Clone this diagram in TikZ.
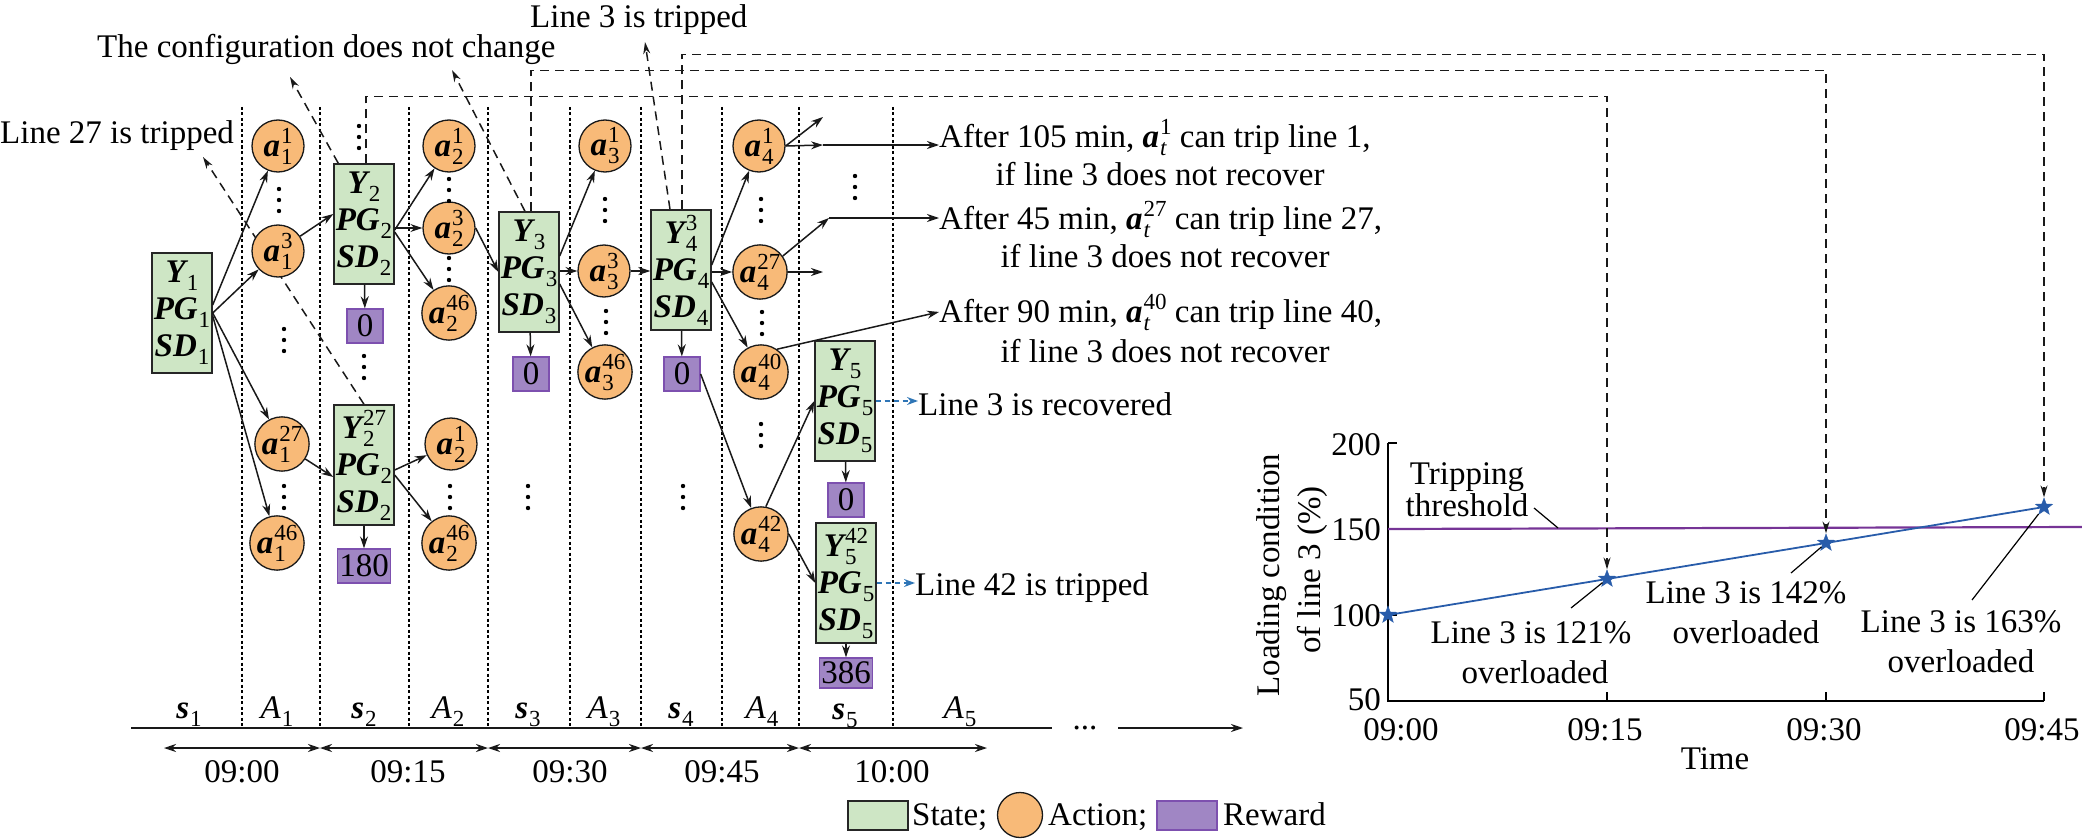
\documentclass[tikz,border=0pt]{standalone}
\usepackage{fontspec}
\setmainfont{Liberation Serif}
\usetikzlibrary{arrows.meta,shapes.geometric,calc}
\pgfdeclarelayer{bg}
\pgfsetlayers{bg,main}
\definecolor{stgreen}{RGB}{206,230,197}
\definecolor{acorange}{RGB}{248,186,120}
\definecolor{rwpurple}{RGB}{160,134,196}
\definecolor{rwborder}{RGB}{125,80,175}
\definecolor{dblue}{RGB}{46,117,182}
\definecolor{pblue}{RGB}{40,92,170}
\definecolor{thr}{RGB}{118,52,150}
\newsavebox\sscA
\newsavebox\sscB
\newlength\sscw
\newcommand\ssc[2]{{\normalfont\fontsize{23}{23}\selectfont
 \sbox\sscA{#1}\sbox\sscB{#2}%
 \setlength\sscw{\wd\sscA}\ifdim\wd\sscB>\sscw\setlength\sscw{\wd\sscB}\fi
 \hspace{1pt}\makebox[\sscw][l]{\rlap{\raisebox{13pt}{\usebox\sscA}}\raisebox{-8pt}{\usebox\sscB}}}}
\newcommand\bi[1]{\textbf{\textit{#1}}}
\newcommand\act[2]{\bi{a}\ssc{#1}{#2}}
\begin{document}
\begin{tikzpicture}[x=1pt,y=-1pt,
 every node/.style={font=\fontsize{33}{37}\selectfont, inner sep=0pt},
 statebox/.style={draw=black!85, line width=1.4pt, fill=stgreen, minimum width=60pt, minimum height=120pt, align=center, font=\fontsize{33}{37}\selectfont\bfseries\itshape},
 actnode/.style={circle, draw=black!90, line width=1.3pt, fill=acorange, minimum size=52pt},
 rwbox/.style={draw=rwborder, line width=1.3pt, fill=rwpurple, minimum width=36pt, minimum height=34pt, inner xsep=2pt},
 arr/.style={line width=1.5pt, black!90, -{Stealth[length=12pt,width=8pt]}},
 dbl/.style={line width=1.5pt, black!90, {Stealth[length=12pt,width=8pt]}-{Stealth[length=12pt,width=8pt]}},
 dasharr/.style={line width=1.5pt, black!90, dash pattern=on 9pt off 6pt, -{Stealth[length=12pt,width=7pt]}},
 bluearr/.style={line width=1.5pt, dblue, dash pattern=on 5pt off 4pt, -{Stealth[length=11pt,width=8pt]}},
 sepline/.style={line width=1.1pt, dash pattern=on 3pt off 2.5pt},
 lbl/.style={anchor=base west},
 ctr/.style={anchor=base},
 leader/.style={line width=1.2pt, black},
 starmark/.style={star, star points=5, star point ratio=2.4, fill=pblue, draw=pblue, minimum size=18pt, inner sep=0pt},
]
\useasboundingbox (0,0) rectangle (2082,840);

% ---------- states ----------
\node[statebox] (S1) at (182,313) {Y\ssc{}{1}\\PG\ssc{}{1}\\SD\ssc{}{1}};
\node[statebox] (S2) at (364,224) {Y\ssc{}{2}\\PG\ssc{}{2}\\SD\ssc{}{2}};
\node[statebox] (S2b) at (364,465) {Y\ssc{27}{2}\\PG\ssc{}{2}\\SD\ssc{}{2}};
\node[statebox] (S3) at (529,272) {Y\ssc{}{3}\\PG\ssc{}{3}\\SD\ssc{}{3}};
\node[statebox] (S4) at (681,270) {Y\ssc{3}{4}\\PG\ssc{}{4}\\SD\ssc{}{4}};
\node[statebox] (S5) at (845,401) {Y\ssc{}{5}\\PG\ssc{}{5}\\SD\ssc{}{5}};
\node[statebox] (S5b) at (846,583) {Y\ssc{42}{5}\\PG\ssc{}{5}\\SD\ssc{}{5}};

% ---------- rewards ----------
\node[rwbox] (R2) at (365,326) {0};
\node[rwbox] (R2b) at (364,566) {180};
\node[rwbox] (R3) at (531,374) {0};
\node[rwbox] (R4) at (682,374) {0};
\node[rwbox] (R5) at (846,500) {0};
\node[rwbox, minimum height=30pt] (R5b) at (846,673) {386};

% ---------- actions ----------
\node[actnode] (a11) at (278,146) {\act{1}{1}};
\node[actnode] (a13) at (278,251) {\act{3}{1}};
\node[actnode] (a127) at (282,444) {\act{27}{1}};
\node[actnode] (a146) at (277,543) {\act{46}{1}};
\node[actnode] (a21) at (449,146) {\act{1}{2}};
\node[actnode] (a23) at (449,228) {\act{3}{2}};
\node[actnode] (a246) at (449,313) {\act{46}{2}};
\node[actnode] (a21b) at (451,444) {\act{1}{2}};
\node[actnode] (a246b) at (449,543) {\act{46}{2}};
\node[actnode] (a31) at (605,146) {\act{1}{3}};
\node[actnode] (a33) at (604,271) {\act{3}{3}};
\node[actnode] (a346) at (605,372) {\act{46}{3}};
\node[actnode] (a41) at (759,146) {\act{1}{4}};
\node[actnode] (a427) at (760,272) {\act{27}{4}};
\node[actnode] (a440) at (761,372) {\act{40}{4}};
\node[actnode] (a442) at (761,534) {\act{42}{4}};

% ---------- vertical dots ----------
\foreach \dx/\dy in {279/200,284/340,284/497,449/190,449/269,450/497,605/210,606/322,761/210,762/323,761/435,359/137,364/367,528/497,683/497,855/187}
  {\foreach \k in {-11,0,11} \fill (\dx,\dy+\k) circle (2.2pt);}

% ---------- top labels ----------
\node[lbl] (t27) at (0,143) {Line 27 is tripped};
\node[lbl] (tcfg) at (97,58) {The configuration does not change};
\node[lbl] (t3) at (530,28) {Line 3 is tripped};
\coordinate (la1) at (203,157);
\coordinate (la2) at (290,77);
\coordinate (la3) at (452,70);
\coordinate (la4) at (645,42);

% ---------- right texts ----------
\node[lbl] (t105a) at (939,147) {After 105 min, \act{1}{\textit{t}} can trip line 1,};
\node[ctr] (t105b) at (1160,185) {if line 3 does not recover};
\node[lbl] (t45a) at (939,229) {After 45 min, \act{27}{\textit{t}} can trip line 27,};
\node[ctr] (t45b) at (1165,267) {if line 3 does not recover};
\node[lbl] (t90a) at (939,322) {After 90 min, \act{40}{\textit{t}} can trip line 40,};
\node[ctr] (t90b) at (1165,362) {if line 3 does not recover};
\node[lbl] (trec) at (918,415) {Line 3 is recovered};
\node[lbl] (t42) at (915,595) {Line 42 is tripped};

\coordinate (c41a) at (823,117);
\coordinate (c41b) at (823,145);
\coordinate (c427a) at (829,218);
\coordinate (c427b) at (823,272);

% ---------- background: separators and label arrows ----------
\begin{pgfonlayer}{bg}
\foreach \xx in {242,320,409,488,570,641,722,799,893} \draw[sepline] (\xx,107) -- (\xx,728);
\draw[dasharr] (S2b.north) -- (la1);
\draw[dasharr] ([xshift=5pt]S2.north west) -- (la2);
\draw[dasharr] ([xshift=-4pt]S3.north) -- (la3);
\draw[dasharr] ([xshift=-11pt]S4.north) -- (la4);
\end{pgfonlayer}

% ---------- arrows ----------
\draw[arr] ([yshift=8pt]S1.east) -- (a11);
\draw[arr] (S1.east) -- (a13);
\draw[arr] (S1.east) -- (a127);
\draw[arr] ([yshift=-3pt]S1.east) -- (a146);
\draw[arr] (a13) -- ([yshift=10pt]S2.west);
\draw[arr] (a127) -- ([yshift=-12pt]S2b.west);
\draw[arr] ([yshift=-6pt]S2.east) -- (a21);
\draw[arr] (S2.east |- a23) -- (a23);
\draw[arr] ([yshift=-8pt]S2.east) -- (a246);
\draw[arr] (S2) -- (R2);
\draw[arr] ([yshift=-5pt]S2b.east) -- (a21b);
\draw[arr] ([yshift=-10pt]S2b.east) -- (a246b);
\draw[arr] (S2b) -- (R2b);
\draw[arr] (a23.east) -- (S3.west);
\draw[arr] ([yshift=16pt]S3.east) -- (a31);
\draw[arr] (S3.east |- a33) -- (a33);
\draw[arr] ([yshift=-12pt]S3.east) -- (a346);
\draw[arr] (S3) -- (R3);
\draw[arr] (a33) -- (S4.west |- a33);
\draw[arr] ([yshift=5pt]S4.east) -- (a41);
\draw[arr] (S4.east |- a427) -- (a427);
\draw[arr] ([yshift=-12pt]S4.east) -- (a440);
\draw[arr] (S4) -- (R4);
\draw[arr] (R4.east) -- (a442);
\draw[arr] (a442.80) -- (S5.west);
\draw[arr] (a442.east) -- (S5b.west);
\draw[arr] (S5) -- (R5);
\draw[arr] (S5b) -- (R5b);
\draw[arr] (a41.east) -- (c41a);
\draw[arr] (a41.east) -- (c41b);
\draw[arr] (c41b) -- (t105a.west |- c41b);
\draw[arr] (a427.35) -- (c427a);
\draw[arr] (c427a) -- (t45a.west |- c427a);
\draw[arr] (a427.east) -- (c427b);
\draw[arr] (a440.55) -- (t90a.west);
\draw[bluearr] (S5.east) -- (trec.west |- S5.east);
\draw[bluearr] (S5b.east) -- (t42.west |- S5b.east);

% ---------- timeline ----------
\coordinate (tl0) at (131,728);
\coordinate (tl1) at (1052,728);
\draw[line width=1.6pt, black!90] (tl0) -- (tl1);
\node[ctr] (tdots) at (1085,729) {...};
\coordinate (tl2) at (1118,728);
\coordinate (tl3) at (1243,728);
\draw[arr] (tl2) -- (tl3);
\node[ctr] (ls1) at (189,718) {\bi{s}\ssc{}{1}};
\node[ctr] (lA1) at (277,718) {\textit{A}\ssc{}{1}};
\node[ctr] (ls2) at (364,718) {\bi{s}\ssc{}{2}};
\node[ctr] (lA2) at (448,718) {\textit{A}\ssc{}{2}};
\node[ctr] (ls3) at (528,718) {\bi{s}\ssc{}{3}};
\node[ctr] (lA3) at (604,718) {\textit{A}\ssc{}{3}};
\node[ctr] (ls4) at (681,718) {\bi{s}\ssc{}{4}};
\node[ctr] (lA4) at (762,718) {\textit{A}\ssc{}{4}};
\node[ctr] (ls5) at (845,719) {\bi{s}\ssc{}{5}};
\node[ctr] (lA5) at (960,718) {\textit{A}\ssc{}{5}};
\coordinate (ta0) at (164,748);
\coordinate (ta1) at (320,748);
\coordinate (ta2) at (488,748);
\coordinate (ta3) at (641,748);
\coordinate (ta4) at (799,748);
\coordinate (ta5) at (987,748);
\draw[dbl] (ta0) -- (ta1);
\draw[dbl] (ta1) -- (ta2);
\draw[dbl] (ta2) -- (ta3);
\draw[dbl] (ta3) -- (ta4);
\draw[dbl] (ta4) -- (ta5);
\node[ctr] (h0) at (242,782) {09:00};
\node[ctr] (h1) at (408,782) {09:15};
\node[ctr] (h2) at (570,782) {09:30};
\node[ctr] (h3) at (722,782) {09:45};
\node[ctr] (h4) at (892,782) {10:00};

% ---------- legend ----------
\node[draw=black!85, line width=1.4pt, fill=stgreen, minimum width=60pt, minimum height=29pt] (lg1) at (878,815.5) {};
\node[lbl] (lg1t) at (912,825) {State;};
\node[actnode, minimum size=45pt] (lg2) at (1020,815) {};
\node[lbl] (lg2t) at (1048,825) {Action;};
\node[rwbox, minimum width=60pt, minimum height=29pt] (lg3) at (1187,815.5) {};
\node[lbl] (lg3t) at (1223,825) {Reward};

% ---------- chart ----------
\coordinate (O) at (1388,701);
\coordinate (ytop) at (1388,443);
\coordinate (xend) at (2044,701);
\draw[line width=1.6pt] (ytop) -- (O) -- (xend);
\foreach \yy in {443,529,615} \draw[line width=1.5pt] (1388,\yy) -- (1397,\yy);
\foreach \xx in {1607,1826,2044} \draw[line width=1.5pt] (\xx,701) -- (\xx,692);
\node[anchor=base east] (y200) at (1381,455) {200};
\node[anchor=base east] (y150) at (1381,540) {150};
\node[anchor=base east] (y100) at (1381,626) {100};
\node[anchor=base east] (y50) at (1381,710) {50};
\node[ctr] (x0) at (1401,740) {09:00};
\node[ctr] (x15) at (1605,740) {09:15};
\node[ctr] (x30) at (1824,740) {09:30};
\node[ctr] (x45) at (2042,740) {09:45};
\node[ctr] (xlab) at (1715,769) {Time};
\node[anchor=base, rotate=90] (ylab1) at (1279,575) {Loading condition};
\node[anchor=base, rotate=90] (ylab2) at (1320,570) {of line 3 (\%)};
\coordinate (thA) at (1388,529);
\coordinate (thB) at (2082,527);
\draw[thr, line width=2.2pt] (thA) -- (thB);
\coordinate (p0) at (1388,615);
\coordinate (p15) at (1607,579);
\coordinate (p30) at (1826,543);
\coordinate (p45) at (2044,507);
\draw[pblue, line width=1.8pt] (p0) -- (p15) -- (p30) -- (p45);
\node[starmark] (st0) at (p0) {};
\node[starmark] (st15) at (p15) {};
\node[starmark] (st30) at (p30) {};
\node[starmark] (st45) at (p45) {};
\node[ctr] (tr1) at (1467,484) {Tripping};
\node[ctr] (tr2) at (1467,516) {threshold};
\coordinate (trl) at (1534,508);
\coordinate (trm) at (1558,528);
\draw[leader] (trl) -- (trm);
\node[ctr] (o121a) at (1531,643) {Line 3 is 121\%};
\node[ctr] (o121b) at (1535,683) {overloaded};
\node[ctr] (o142a) at (1746,603) {Line 3 is 142\%};
\node[ctr] (o142b) at (1746,643) {overloaded};
\node[ctr] (o163a) at (1961,632) {Line 3 is 163\%};
\node[ctr] (o163b) at (1961,672) {overloaded};
\coordinate (ld1) at (1571,608);
\coordinate (ld2) at (1791,573);
\coordinate (ld3) at (1972,600);
\draw[leader] (ld1) -- (st15);
\draw[leader] (ld2) -- (st30);
\draw[leader] (ld3) -- (st45);

% ---------- long dashed connectors ----------
\draw[dasharr] ([xshift=2pt]S2.north) -- ++(0,-67) -| (st15.north);
\draw[dasharr] ([xshift=2pt]S3.north) -- ++(0,-141) -| (st30.north);
\draw[dasharr] ([xshift=1pt]S4.north) -- ++(0,-155) -| (st45.north);
\end{tikzpicture}
\end{document}
